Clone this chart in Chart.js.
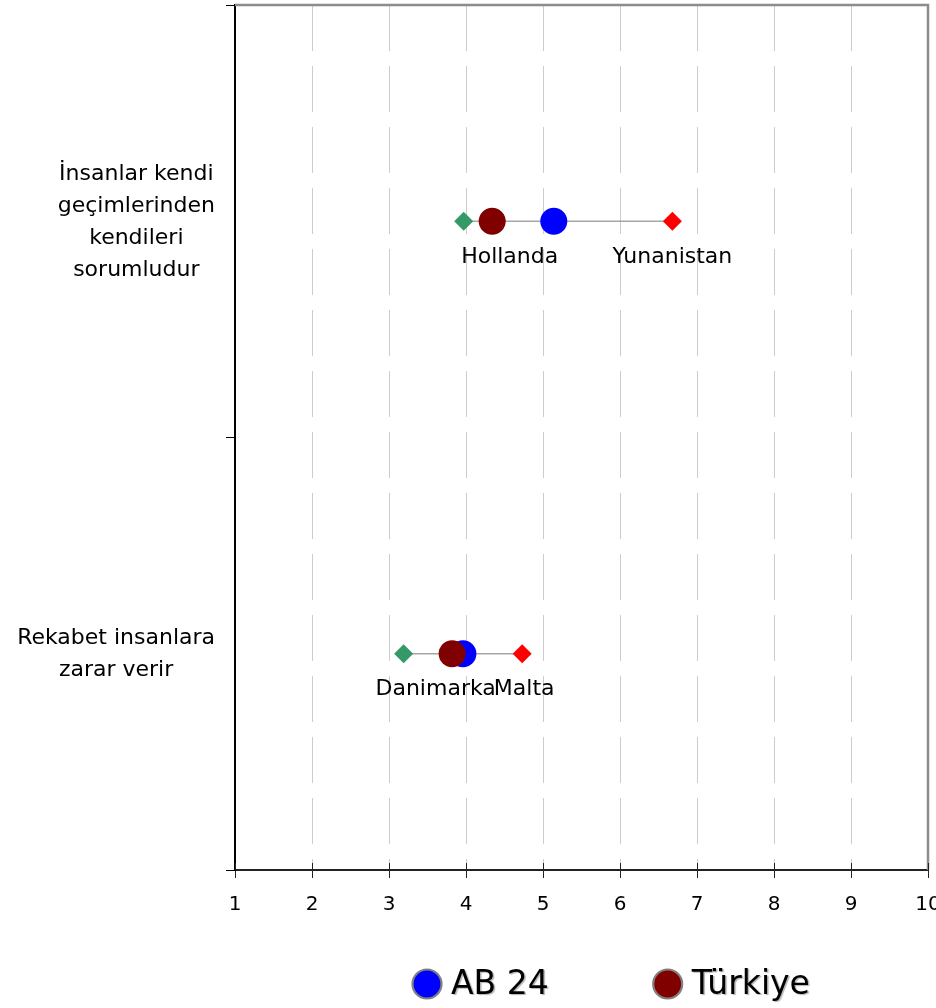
<!DOCTYPE html>
<html><head><meta charset="utf-8">
<script src="https://cdn.jsdelivr.net/npm/chart.js@4/dist/chart.umd.min.js"></script>
<style>html,body{margin:0;padding:0;background:#fff}#wrap{width:936px;height:1008px}</style>
</head><body><div id="wrap"><canvas id="c" width="936" height="1008"></canvas></div>
<script>
const categories = [['İnsanlar kendi', 'geçimlerinden', 'kendileri', 'sorumludur'], ['Rekabet insanlara', 'zarar verir']];
const seriesNames = ['AB 24', 'Türkiye'];
const ab24 = [5.14, 3.96];
const turkiye = [4.34, 3.82];
const minValues = [3.97, 3.19];
const minCountries = ['Hollanda', 'Danimarka'];
const maxValues = [6.68, 4.73];
const maxCountries = ['Yunanistan', 'Malta'];
const xTicks = [1, 2, 3, 4, 5, 6, 7, 8, 9, 10];

const FONT = '"DejaVu Sans", Verdana, sans-serif';
const COLORS = { ab24: '#0000ff', tr: '#800000', min: '#339966', max: '#ff0000', range: '#a6a6a6' };
const minLabelDx = [46, 32];
const maxLabelDx = [0, 2];

const catKeys = categories.map(c => c.join(' '));
const pts = vals => vals.map((v, i) => ({ x: v, y: catKeys[i] }));

const datasets = [
  { label: seriesNames[1], data: pts(turkiye), pointStyle: 'circle', pointRadius: 13.5, pointHoverRadius: 13.5,
    backgroundColor: COLORS.tr, borderColor: COLORS.tr, pointBorderWidth: 0 },
  { label: seriesNames[0], data: pts(ab24), pointStyle: 'circle', pointRadius: 13.5, pointHoverRadius: 13.5,
    backgroundColor: COLORS.ab24, borderColor: COLORS.ab24, pointBorderWidth: 0 },
  { label: 'max', data: pts(maxValues), pointStyle: 'rectRot', pointRadius: 9.5, pointHoverRadius: 9.5,
    backgroundColor: COLORS.max, borderColor: COLORS.max, pointBorderWidth: 0 },
  { label: 'min', data: pts(minValues), pointStyle: 'rectRot', pointRadius: 9.5, pointHoverRadius: 9.5,
    backgroundColor: COLORS.min, borderColor: COLORS.min, pointBorderWidth: 0 },
  ...catKeys.map((k, i) => ({
    label: 'range' + i, data: [{ x: minValues[i], y: k }, { x: maxValues[i], y: k }],
    showLine: true, borderColor: COLORS.range, borderWidth: 1.5, pointRadius: 0, pointHoverRadius: 0
  }))
];

const decor = {
  id: 'decor',
  afterDraw(chart) {
    const { ctx, chartArea: a, scales: { x, y } } = chart;
    ctx.save();
    // top & right frame
    ctx.strokeStyle = '#8c8c8c'; ctx.lineWidth = 2.5;
    ctx.beginPath(); ctx.moveTo(a.left, a.top); ctx.lineTo(a.right, a.top); ctx.lineTo(a.right, a.bottom); ctx.stroke();
    // inner half of x tick marks
    ctx.strokeStyle = '#222'; ctx.lineWidth = 1;
    xTicks.forEach(v => { const px = Math.round(x.getPixelForValue(v)) + 0.5; ctx.beginPath(); ctx.moveTo(px, a.bottom - 7); ctx.lineTo(px, a.bottom); ctx.stroke(); });
    // category labels
    ctx.fillStyle = '#000'; ctx.font = '22px ' + FONT; ctx.textAlign = 'center'; ctx.textBaseline = 'middle';
    categories.forEach((lines, i) => {
      const cy = y.getPixelForValue(i);
      const widest = Math.max(...lines.map(l => ctx.measureText(l).width));
      const cx = a.left - 20 - widest / 2;
      lines.forEach((l, j) => ctx.fillText(l, cx, cy + 1 + (j - (lines.length - 1) / 2) * 32));
    });
    // country labels
    categories.forEach((c, i) => {
      const cy = y.getPixelForValue(i) + 36;
      ctx.fillText(minCountries[i], x.getPixelForValue(minValues[i]) + minLabelDx[i], cy);
      ctx.fillText(maxCountries[i], x.getPixelForValue(maxValues[i]) + maxLabelDx[i], cy);
    });
    // legend
    const items = [{ t: seriesNames[0], c: COLORS.ab24 }, { t: seriesNames[1], c: COLORS.tr }];
    ctx.font = '33px ' + FONT; ctx.textAlign = 'left';
    let lx = a.left + 192;
    const ly = 984;
    items.forEach(it => {
      ctx.shadowColor = 'transparent';
      ctx.beginPath(); ctx.arc(lx, ly, 14.5, 0, Math.PI * 2);
      ctx.fillStyle = it.c; ctx.fill();
      ctx.strokeStyle = '#808080'; ctx.lineWidth = 2.2; ctx.stroke();
      ctx.fillStyle = '#000';
      ctx.shadowColor = 'rgba(0,0,0,0.3)'; ctx.shadowOffsetX = 1.5; ctx.shadowOffsetY = 1.5; ctx.shadowBlur = 1;
      ctx.fillText(it.t, lx + 24, ly + 1);
      lx += 24 + ctx.measureText(it.t).width + 119;
    });
    ctx.restore();
  }
};

new Chart(document.getElementById('c'), {
  type: 'scatter',
  data: { datasets },
  options: {
    responsive: false, animation: false, events: [],
    layout: { autoPadding: false, padding: { top: 5, right: 8, bottom: 0, left: 0 } },
    plugins: { legend: { display: false }, tooltip: { enabled: false } },
    scales: {
      x: {
        type: 'linear', min: 1, max: 10,
        afterBuildTicks: s => { s.ticks = xTicks.map(v => ({ value: v })); },
        grid: { color: '#cccccc', lineWidth: 1, tickLength: 8, tickColor: '#222', tickWidth: 1 },
        border: { display: true, color: '#222', width: 2, dash: [46, 15] },
        ticks: { font: { family: FONT, size: 20 }, color: '#000', padding: 15, maxRotation: 0, autoSkip: false },
        afterFit: s => { s.height = 138; s.paddingLeft = 0; s.paddingRight = 0; }
      },
      y: {
        type: 'category', labels: catKeys, offset: true,
        grid: { offset: true, drawOnChartArea: false, tickLength: 9, color: '#000', tickColor: '#000', tickWidth: 1 },
        border: { display: true, color: '#000', width: 2 },
        ticks: { display: false },
        afterFit: s => { s.width = 235; s.paddingTop = 0; s.paddingBottom = 0; }
      }
    }
  },
  plugins: [decor]
});
</script></body></html>
